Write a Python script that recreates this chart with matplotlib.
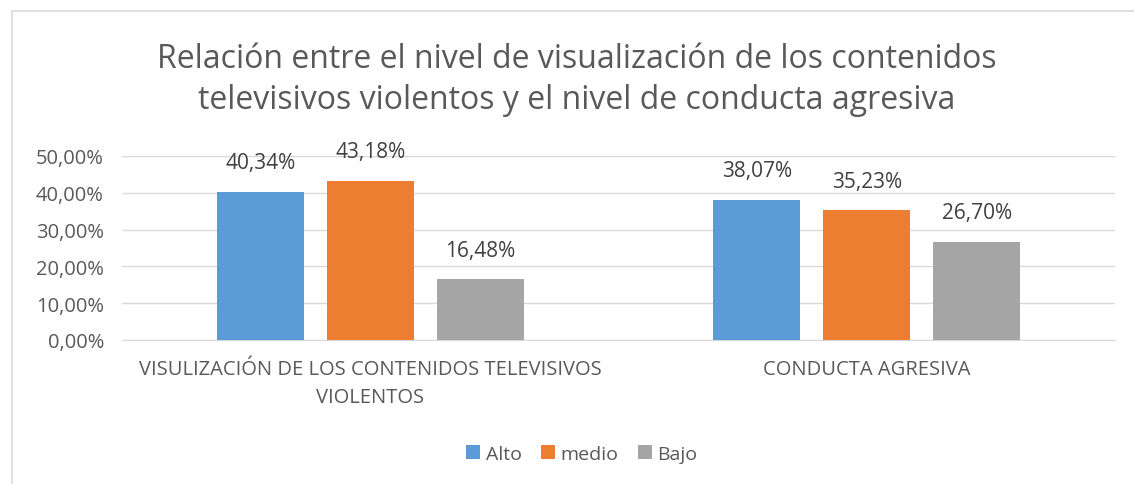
import numpy as np
import matplotlib.pyplot as plt
from matplotlib.patches import Rectangle
from matplotlib.ticker import FuncFormatter

categorias = ["VISULIZACIÓN DE LOS CONTENIDOS TELEVISIVOS\nVIOLENTOS", "CONDUCTA AGRESIVA"]
series = ["Alto", "medio", "Bajo"]
alto = [0.4034, 0.3807]
medio = [0.4318, 0.3523]
bajo = [0.1648, 0.2670]
colores = ["#5B9BD5", "#ED7D31", "#A5A5A5"]

plt.rcParams['font.family'] = ['Open Sans', 'DejaVu Sans']
gris = "#595959"

fig = plt.figure(figsize=(11.34, 4.85), dpi=100)
fig.patches.append(Rectangle((12/1134, -0.1), 1.2, 1 - 12/485 + 0.1, transform=fig.transFigure,
                             fill=False, edgecolor="#D9D9D9", linewidth=1.2))
ax = fig.add_axes([122/1134, 1 - 341/485, (1115 - 122)/1134, (341 - 157)/485])

x = np.arange(len(categorias))
ancho = 0.175
paso = 0.2215
for i, (nombre, vals) in enumerate(zip(series, [alto, medio, bajo])):
    pos = x + (i - 1) * paso
    barras = ax.bar(pos, vals, ancho, color=colores[i], label=nombre, zorder=3)
    for b, v in zip(barras, vals):
        ax.annotate(f"{v*100:.2f}%".replace(".", ","), (b.get_x() + b.get_width() / 2, v),
                    xytext=(0, 21), textcoords="offset points",
                    ha="center", va="center", fontsize=15, color="#404040")

ax.set_xlim(-0.5, 1.5)
ax.set_ylim(0, 0.5)
ax.set_yticks(np.arange(0, 0.51, 0.1))
ax.yaxis.set_major_formatter(FuncFormatter(lambda v, p: f"{v*100:.2f}%".replace(".", ",")))
ax.grid(axis="y", color="#D9D9D9", linewidth=1, zorder=0)
ax.set_xticks(x)
ax.set_xticklabels(categorias, fontsize=14.5, color=gris, linespacing=1.5)
ax.tick_params(axis="y", labelsize=14.5, labelcolor=gris, length=0, pad=13)
ax.tick_params(axis="x", length=0, pad=14)
for s in ["top", "right", "left"]:
    ax.spines[s].set_visible(False)
ax.spines["bottom"].set_color("#D9D9D9")

fig.text(577/1134, 1 - 80/485, "Relación entre el nivel de visualización de los contenidos\ntelevisivos violentos y el nivel de conducta agresiva",
         ha="center", va="center", fontsize=23, color=gris, linespacing=1.3)

fig.legend(loc="center", bbox_to_anchor=(582/1134, 1 - 455/485), ncol=3, frameon=False,
           fontsize=14, labelcolor=gris, handlelength=0.7, handleheight=0.7,
           handletextpad=0.3, columnspacing=1.0)

fig.savefig("out.png", dpi=100)
